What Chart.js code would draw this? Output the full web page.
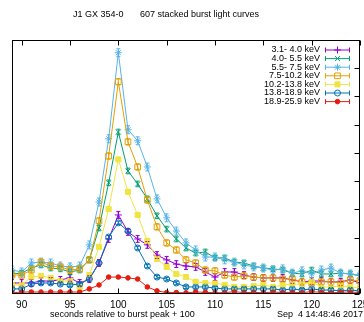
<!DOCTYPE html>
<html>
<head>
<meta charset="utf-8">
<script src="https://cdn.jsdelivr.net/npm/chart.js@4.4.0/dist/chart.umd.min.js"></script>
<style>
html, body { margin: 0; padding: 0; background: #fff; overflow: hidden; width: 364px; height: 322px; }
canvas { display: block; }
</style>
</head>
<body>
<canvas id="myChart" width="380" height="322"></canvas>
<script>
// seconds relative to burst peak + 100
let seconds = [89, 90, 91, 92, 93, 94, 95, 96, 97, 98, 99, 100, 101, 102, 103, 104, 105, 106, 107,
  108, 109, 110, 111, 112, 113, 114, 115, 116, 117, 118, 119, 120, 121, 122, 123, 124, 125];

let xTickValues = [90, 95, 100, 105, 110, 115, 120, 125];

let bandLabels = ["3.1- 4.0 keV", "4.0- 5.5 keV", "5.5- 7.5 keV", "7.5-10.2 keV",
  "10.2-13.8 keV", "13.8-18.9 keV", "18.9-25.9 keV"];

let band_3_4 = [0.39, 0.39, 0.39, 0.46, 0.46, 0.50, 0.57, 0.39, 0.53, 1.10, 1.95, 2.80, 2.20, 1.95,
  1.74, 1.38, 1.21, 1.06, 0.99, 0.96, 0.78, 0.60, 0.78, 0.78, 0.67, 0.60, 0.57, 0.57, 0.57, 0.50,
  0.43, 0.46, 0.46, 0.43, 0.43, 0.50, 0.39];
let band_4_5 = [0.71, 0.74, 0.92, 1.03, 0.92, 0.89, 0.78, 0.85, 1.21, 2.34, 3.94, 5.74, 4.36, 3.90,
  3.37, 2.77, 2.30, 1.95, 1.63, 1.45, 1.49, 1.28, 1.28, 1.13, 1.10, 0.99, 0.92, 0.89, 0.85, 0.74,
  0.71, 0.85, 0.71, 0.71, 0.74, 0.71, 0.64];
let band_5_7 = [0.85, 0.78, 1.10, 1.13, 1.10, 0.99, 0.96, 0.99, 1.74, 3.26, 5.50, 8.55, 5.82, 5.43,
  4.50, 3.37, 2.70, 2.23, 1.81, 1.56, 1.31, 1.31, 1.21, 1.13, 1.03, 0.96, 0.92, 0.85, 0.89, 0.74,
  0.82, 0.71, 0.85, 0.92, 0.74, 0.71, 0.67];
let band_7_10 = [0.67, 0.67, 0.85, 1.13, 0.99, 0.96, 0.85, 0.89, 1.21, 2.59, 4.89, 7.52, 5.39, 4.50,
  3.33, 2.38, 1.81, 1.56, 1.21, 1.10, 0.85, 0.82, 0.67, 0.60, 0.64, 0.60, 0.57, 0.57, 0.53, 0.53,
  0.43, 0.39, 0.43, 0.43, 0.39, 0.50, 0.46];
let band_10_13 = [0.32, 0.32, 0.60, 0.64, 0.57, 0.46, 0.46, 0.25, 0.67, 1.67, 3.01, 4.77, 3.62, 2.80,
  1.88, 1.24, 0.96, 0.71, 0.60, 0.43, 0.39, 0.39, 0.32, 0.25, 0.25, 0.28, 0.32, 0.25, 0.32, 0.35,
  0.35, 0.43, 0.25, 0.25, 0.28, 0.25, 0.21];
let band_13_18 = [0.18, 0.18, 0.35, 0.39, 0.39, 0.35, 0.32, 0.35, 0.53, 1.10, 2.02, 2.52, 2.23, 1.63,
  0.99, 0.60, 0.53, 0.39, 0.25, 0.25, 0.25, 0.21, 0.18, 0.18, 0.18, 0.18, 0.18, 0.18, 0.14, 0.18,
  0.14, 0.18, 0.14, 0.14, 0.11, 0.14, 0.11];
let band_18_25 = [0.04, 0.07, 0.07, 0.07, 0.07, 0.07, 0.07, 0.07, 0.18, 0.32, 0.60, 0.60, 0.57, 0.53,
  0.25, 0.11, 0.05, 0.05, 0.04, 0.07, 0.06, 0.04, 0.05, 0.08, 0.05, 0.06, 0.04, 0.07, 0.05, 0.06,
  0.05, 0.08, 0.06, 0.04, 0.06, 0.07, 0.05];

// error bar half size for each band
let bandErrors = [0.12, 0.1, 0.14, 0.11, 0.07, 0.06, 0.03];

let bandColors = ["#9400d3", "#009e73", "#56b4e9", "#e69f00", "#f0e442", "#0072b2", "#e51e10"];
let bandMarkers = ["cross", "crossRot", "star", "rect", "rect", "circle", "circle"];
let bandFilled = [false, false, false, false, true, false, true];
let bandRadius = [3.5, 3.5, 3.5, 4, 3.6, 3, 2.3];

let allBands = [band_3_4, band_4_5, band_5_7, band_7_10, band_10_13, band_13_18, band_18_25];

let FONT = '9px "Liberation Sans", Arial, sans-serif';

let datasets = [];
for (let i = 0; i < allBands.length; i++) {
  let pts = [];
  for (let j = 0; j < seconds.length; j++) {
    pts.push({x: seconds[j], y: allBands[i][j]});
  }
  datasets.push({
    label: bandLabels[i],
    data: pts,
    borderColor: bandColors[i],
    borderWidth: 1,
    pointStyle: bandMarkers[i],
    pointRadius: bandRadius[i],
    pointBorderWidth: 1,
    pointBorderColor: bandColors[i],
    pointBackgroundColor: bandFilled[i] ? bandColors[i] : "rgba(0,0,0,0)",
    tension: 0,
    order: allBands.length - i
  });
}

function markerAt(ctx, i, x, y) {
  ctx.strokeStyle = bandColors[i];
  ctx.fillStyle = bandFilled[i] ? bandColors[i] : "rgba(0,0,0,0)";
  ctx.lineWidth = 1;
  Chart.helpers.drawPoint(ctx, {pointStyle: bandMarkers[i], radius: bandRadius[i], rotation: 0, borderWidth: 1}, x, y);
}

const gnuplotLook = {
  id: "gnuplotLook",
  afterDatasetsDraw(chart) {
    let ctx = chart.ctx, a = chart.chartArea;
    let xs = chart.scales.x, ys = chart.scales.y;
    ctx.save();
    ctx.beginPath();
    ctx.rect(a.left, a.top, a.right - a.left, a.bottom - a.top);
    ctx.clip();
    ctx.lineWidth = 1;
    for (let i = 0; i < allBands.length; i++) {
      ctx.strokeStyle = bandColors[i];
      ctx.beginPath();
      for (let j = 0; j < seconds.length; j++) {
        let px = xs.getPixelForValue(seconds[j]);
        let y1 = ys.getPixelForValue(allBands[i][j] + bandErrors[i]);
        let y2 = ys.getPixelForValue(allBands[i][j] - bandErrors[i]);
        ctx.moveTo(px, y1); ctx.lineTo(px, y2);
        ctx.moveTo(px - 2, y1); ctx.lineTo(px + 2, y1);
        ctx.moveTo(px - 2, y2); ctx.lineTo(px + 2, y2);
      }
      ctx.stroke();
    }
    ctx.restore();
  },
  afterDraw(chart) {
    let ctx = chart.ctx, a = chart.chartArea;
    let xs = chart.scales.x, ys = chart.scales.y;
    ctx.save();
    ctx.strokeStyle = "#000";
    ctx.lineWidth = 1;
    let L = Math.round(a.left) + 0.5, R = Math.round(a.right) - 0.5;
    let T = Math.round(a.top) + 0.5, B = Math.round(a.bottom) - 0.5;
    ctx.beginPath();
    xs.ticks.forEach(function (t) {
      let px = Math.round(xs.getPixelForValue(t.value)) + 0.5;
      ctx.moveTo(px, T); ctx.lineTo(px, T + 5);
      ctx.moveTo(px, B); ctx.lineTo(px, B - 5);
    });
    ys.ticks.forEach(function (t) {
      let py = Math.round(ys.getPixelForValue(t.value)) + 0.5;
      ctx.moveTo(R, py); ctx.lineTo(R - 5, py);
    });
    ctx.stroke();
    ctx.strokeRect(L, T, R - L, B - T);

    // legend
    ctx.font = FONT;
    ctx.textBaseline = "middle";
    for (let i = 0; i < bandLabels.length; i++) {
      let y = 50 + i * 8.6;
      ctx.fillStyle = "#000";
      ctx.textAlign = "right";
      ctx.fillText(bandLabels[i], 320, y);
      ctx.strokeStyle = bandColors[i];
      ctx.beginPath();
      ctx.moveTo(325, y); ctx.lineTo(350, y);
      ctx.moveTo(325.5, y - 2.5); ctx.lineTo(325.5, y + 2.5);
      ctx.moveTo(349.5, y - 2.5); ctx.lineTo(349.5, y + 2.5);
      ctx.stroke();
      markerAt(ctx, i, 337.5, y);
    }

    // title and labels
    ctx.fillStyle = "#000";
    ctx.textAlign = "left";
    ctx.fillText("J1 GX 354-0", 73, 15);
    ctx.fillText("607 stacked burst light curves", 140, 15);
    ctx.fillText("seconds relative to burst peak + 100", 50, 315);
    ctx.textAlign = "right";
    ctx.fillText("Sep  4 14:48:46 2017", 363, 315);
    ctx.restore();
  }
};

new Chart("myChart", {
  type: "line",
  data: { datasets: datasets },
  options: {
    responsive: false,
    animation: false,
    events: [],
    layout: { padding: { left: 12, right: 20, top: 40, bottom: 6 } },
    plugins: {
      legend: { display: false },
      title: { display: false },
      tooltip: { enabled: false }
    },
    scales: {
      x: {
        type: "linear",
        min: 89,
        max: 125,
        afterBuildTicks: function (scale) {
          scale.ticks = xTickValues.map(function (v) { return {value: v}; });
        },
        grid: { display: false, drawTicks: false },
        border: { display: false },
        ticks: {
          autoSkip: false,
          maxRotation: 0,
          padding: 5,
          color: "#000",
          font: { family: '"Liberation Sans", Arial, sans-serif', size: 10 }
        }
      },
      y: {
        display: false,
        min: 0,
        max: 9,
        ticks: { stepSize: 1 }
      }
    }
  },
  plugins: [gnuplotLook]
});
</script>
</body>
</html>
